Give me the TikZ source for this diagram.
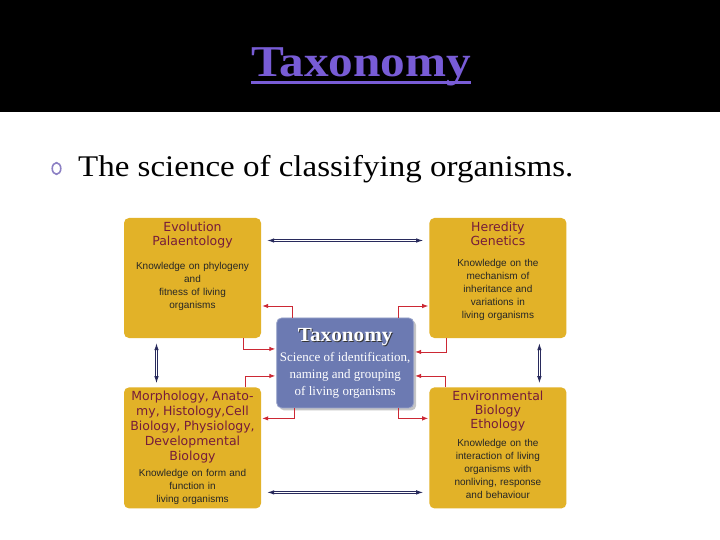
\documentclass[tikz,border=0pt]{standalone}
\usepackage{fontspec}
\setmainfont{Liberation Serif}
\newfontfamily\headsans{DejaVu Sans}
\newfontfamily\bodysans{Liberation Sans}
\usetikzlibrary{arrows.meta,calc,positioning,shadows}
\definecolor{slidepurple}{RGB}{120,92,214}
\definecolor{bulletgrey}{RGB}{140,128,196}
\definecolor{fieldgold}{RGB}{226,178,40}
\definecolor{taxblue}{RGB}{108,122,178}
\definecolor{headred}{RGB}{118,28,58}
\definecolor{tiered}{RGB}{204,40,52}
\definecolor{linknavy}{RGB}{40,42,92}
\newcommand{\headfont}{\headsans\fontsize{12.5}{14}\selectfont\color{headred}}
\newcommand{\bodyfont}{\bodysans\fontsize{10}{13}\selectfont\color{black!85}}
\newcommand{\fieldlabel}[3]{{\headfont #1\par}\vspace{#2}{\bodyfont #3\par}}
\newcommand{\embossed}[1]{\rlap{\textcolor{black!80}{\kern1pt\raisebox{-1pt}{#1}}}#1}

\begin{document}
\begin{tikzpicture}[x=1pt,y=-1pt,
  fieldbox/.style={rectangle,rounded corners=5pt,fill=fieldgold,
                   minimum width=137pt,minimum height=120pt,inner sep=0pt},
  fieldtext/.style={anchor=north,yshift=-4pt,inner sep=0pt,text width=136pt,align=center},
  taxbox/.style={rectangle,rounded corners=5pt,fill=taxblue,draw=taxblue!70!white,
                 line width=0.8pt,minimum width=137pt,minimum height=90pt,
                 drop shadow={shadow xshift=2.5pt,shadow yshift=-2.5pt,opacity=0.45},
                 text=white,text width=134pt,align=center,inner sep=0pt},
  tie/.style={-{Latex[length=6pt,width=4.5pt]},draw=tiered,line width=0.9pt,shorten >=1pt},
  link/.style={{Latex[length=7pt,width=4.5pt]}-{Latex[length=7pt,width=4.5pt]},draw=linknavy,
               double,double distance=1.5pt,line width=0.9pt}
]
  \useasboundingbox (0,0) rectangle (720,540);
  \fill[white] (0,0) rectangle (720,540);

  % ---------------- slide header ----------------
  \fill[black] (0,0) rectangle (720,112.5);
  \node[anchor=base,inner sep=0pt,font=\bfseries\fontsize{44}{50}\selectfont\addfontfeatures{FakeStretch=1.12},
        text=slidepurple] (head) at (361,77) {Taxonomy};
  \draw[slidepurple,line width=2.6pt] ([yshift=-5.5pt]head.base west) -- ([yshift=-5.5pt]head.base east);

  \draw[bulletgrey,line width=1.6pt] (56.5,168.5) ellipse [x radius=4.3pt,y radius=5.8pt];
  \node[anchor=base west,inner sep=0pt,font=\fontsize{30}{32}\selectfont\addfontfeatures{FakeStretch=1.1}] (intro) at (78,177)
    {The science of classifying organisms.};

  % ---------------- four fields ----------------
  \node[fieldbox,label={[fieldtext]north:{\fieldlabel{Evolution\\Palaentology}{11pt}%
    {Knowledge on phylogeny\\and\\fitness of living\\organisms}}}] (evo) at (192.5,278) {};

  \node[fieldbox,right=168pt of evo,label={[fieldtext]north:{\fieldlabel{Heredity\\Genetics}{8pt}%
    {Knowledge on the\\mechanism of\\inheritance and\\variations in\\living organisms}}}] (her) {};

  \node[fieldbox,minimum height=121pt,below=49pt of evo,label={[fieldtext]north:{\fieldlabel{\fontsize{12.5}{15}\selectfont
    Morphology, Anato-\\my, Histology,Cell\\Biology, Physiology,\\Developmental\\Biology}{3pt}%
    {Knowledge on form and\\function in\\living organisms}}}] (mor) {};

  \node[fieldbox,minimum height=121pt,below=49pt of her,label={[fieldtext]north:{\fieldlabel{Environmental\\Biology\\Ethology}{5pt}%
    {Knowledge on the\\interaction of living\\organisms with\\nonliving, response\\and behaviour}}}] (env) {};

  % ---------------- centre ----------------
  \node[taxbox] (tax) at ($(evo)!0.5!(env)$)
    {{\bfseries\fontsize{20}{20}\selectfont\addfontfeatures{FakeStretch=1.06}\embossed{Taxonomy}\par}\vspace{3pt}%
     {\fontsize{13}{17}\selectfont Science of identification,\\naming and grouping\\of living organisms\par}};

  \draw[tie] ($(tax.north west)+(16,0)$) |- ($(evo.east)+(0,28)$);
  \draw[tie] ($(evo.south east)+(-18,0)$) |- ($(tax.west)+(0,-14)$);
  \draw[tie] ($(tax.north east)+(-16,0)$) |- ($(her.west)+(0,28)$);
  \draw[tie] ($(her.south west)+(17,0)$) |- ($(tax.east)+(0,-11)$);
  \draw[tie] ($(mor.north east)+(-16,0)$) |- ($(tax.west)+(0,13)$);
  \draw[tie] ($(tax.south west)+(18,0)$) |- ($(mor.east)+(0,-29.5)$);
  \draw[tie] ($(env.north west)+(16,0)$) |- ($(tax.east)+(0,13)$);
  \draw[tie] ($(tax.south east)+(-16,0)$) |- ($(env.west)+(0,-29.5)$);

  \draw[link] ($(evo.east)+(6,-37.5)$) -- ($(her.west)+(-6,-37.5)$);
  \draw[link] ($(mor.east)+(6,44.5)$) -- ($(env.west)+(-6,44.5)$);
  \draw[link] ($(evo.south)+(-36,5)$) -- ($(mor.north)+(-36,-4)$);
  \draw[link] ($(her.south)+(41.5,5)$) -- ($(env.north)+(41.5,-4)$);
\end{tikzpicture}
\end{document}
